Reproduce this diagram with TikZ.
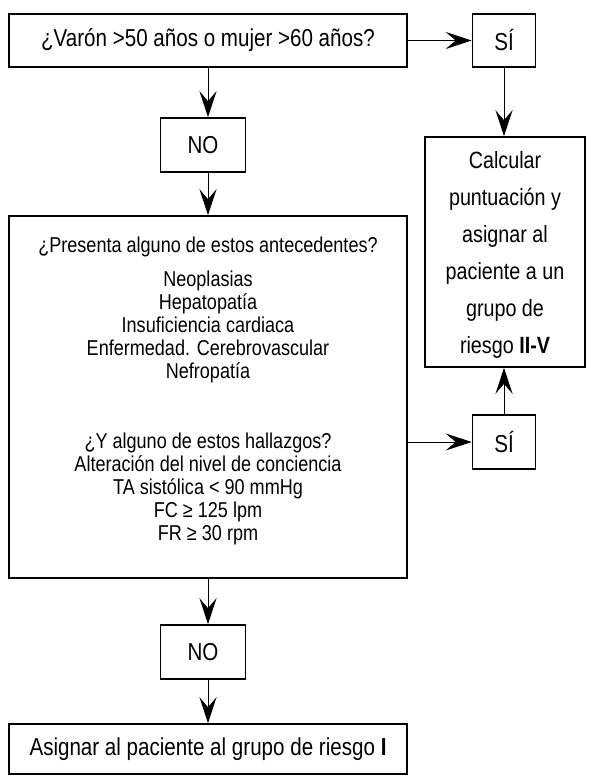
\documentclass[tikz,border=0pt]{standalone}
\usepackage{fontspec}
\setmainfont{Liberation Sans}[FakeStretch=0.84]
\usetikzlibrary{arrows.meta}
\begin{document}
\begin{tikzpicture}[x=1pt,y=-1pt,
  box/.style={draw, line width=1.6pt, inner sep=0pt, align=center, font=\fontsize{24.5}{28}\selectfont},
  txt/.style={inner sep=0pt, align=center},
  arr/.style={line width=0.9pt, -{Stealth[length=26pt,width=17pt,inset=10pt]}}]
\useasboundingbox (0,0) rectangle (594,783);
\node[box, minimum width=398pt, minimum height=53pt] (top) at (208,40.5) {¿Varón >50 años o mujer >60 años?};
\node[box, minimum width=63pt, minimum height=53pt] (si1) at (504,40.5) {SÍ};
\node[box, minimum width=85pt, minimum height=54pt] (no1) at (203,145) {NO};
\node[box, minimum width=398pt, minimum height=362pt] (big) at (208,397) {};
\node[txt, font=\fontsize{21.5}{23}\selectfont] (bigtxt) at (208,391)
 {¿Presenta alguno de estos antecedentes?\\[11pt]
  Neoplasias\\ Hepatopatía\\ Insuficiencia cardiaca\\ Enfermedad. Cerebrovascular\\ Nefropatía\\[47pt]
  ¿Y alguno de estos hallazgos?\\ Alteración del nivel de conciencia\\ TA sistólica < 90 mmHg\\
  FC ≥ 125 lpm\\ FR ≥ 30 rpm};
\node[box, minimum width=160pt, minimum height=230pt] (calc) at (505,252) {};
\node[txt, font=\fontsize{23.5}{37}\selectfont] (calctxt) at (505,255)
 {Calcular\\ puntuación y\\ asignar al\\ paciente a un\\ grupo de\\ riesgo \textbf{II-V}};
\node[box, minimum width=63pt, minimum height=54pt] (si2) at (504,442) {SÍ};
\node[box, minimum width=85pt, minimum height=54pt] (no2) at (203,652) {NO};
\node[box, minimum width=398pt, minimum height=50pt] (bot) at (208,749) {Asignar al paciente al grupo de riesgo \textbf{I}};
\coordinate (ax) at (208,0);
\draw[arr] (top.east) -- (si1.west);
\draw[arr] (si1.south) -- (si1.south |- calc.north);
\draw[arr] (top.south -| ax) -- (no1.north -| ax);
\draw[arr] (no1.south -| ax) -- (big.north -| ax);
\draw[arr] (big.east |- si2.west) -- (si2.west);
\draw[arr] (si2.north) -- (si2.north |- calc.south);
\draw[arr] (big.south -| ax) -- (no2.north -| ax);
\draw[arr] (no2.south -| ax) -- (bot.north -| ax);
\end{tikzpicture}
\end{document}
